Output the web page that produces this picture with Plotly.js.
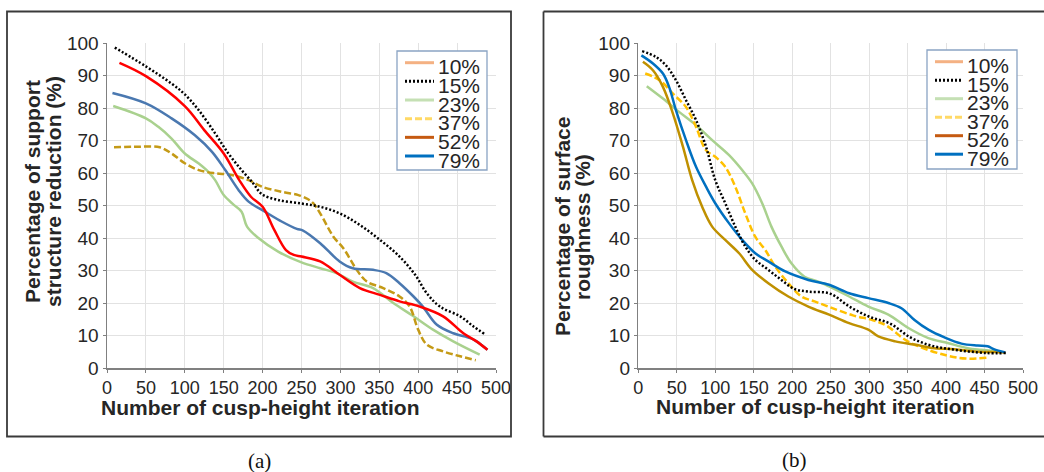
<!DOCTYPE html>
<html>
<head>
<meta charset="utf-8">
<script src="https://cdn.plot.ly/plotly-3.0.1.min.js"></script>
<style>
html,body{margin:0;padding:0;background:#fff;}
#chart{width:1044px;height:472px;}
</style>
</head>
<body>
<div id="chart"></div>
<script>
// ---------- DATA ----------
const legendNames = ["10%", "15%", "23%", "37%", "52%", "79%"];
const xTicks = [0, 50, 100, 150, 200, 250, 300, 350, 400, 450, 500];
const yTicks = [0, 10, 20, 30, 40, 50, 60, 70, 80, 90, 100];

// (a) Percentage of support structure reduction
const a15x = [10, 50, 83, 100, 118, 139, 156, 173, 188, 199, 220, 250, 274, 299, 325, 351, 376, 396, 411, 428, 454, 471, 485];
const a15y = [98.6, 92.8, 87.5, 84.2, 79.3, 72.2, 66, 60.9, 56.8, 53.5, 51.7, 50.6, 49.6, 47.6, 44, 39.4, 34.3, 28.7, 23, 18.9, 15.9, 12.8, 10.5];
const a52x = [16, 50, 100, 125, 150, 170, 185, 200, 215, 230, 240, 250, 274, 299, 325, 351, 376, 402, 432, 458, 475, 489];
const a52y = [93.9, 89.8, 80.6, 73.2, 66, 57.8, 52.7, 49.6, 42.5, 36.3, 34.8, 34.3, 32.8, 28.7, 24.6, 22.5, 20.5, 18.9, 15.9, 10.7, 8.2, 5.6];
const a79x = [7, 50, 83, 113, 135, 152, 169, 182, 203, 225, 244, 252, 274, 299, 316, 342, 359, 376, 394, 406, 424, 445, 467, 475, 489];
const a79y = [84.6, 81.4, 76.8, 71.6, 66.5, 60.9, 54.8, 51.2, 48.1, 45, 42.8, 42.3, 38.4, 32.8, 30.7, 30.2, 29.2, 26.1, 22, 18.9, 13.3, 10.7, 9.2, 8.2, 5.6];
const a23x = [8, 50, 66, 83, 100, 118, 130, 139, 150, 163, 173, 180, 195, 220, 250, 274, 295, 316, 342, 368, 394, 419, 445, 479];
const a23y = [80.6, 76.8, 74.2, 70.6, 66, 62.9, 60.4, 57.8, 53.2, 50.2, 48.1, 43.5, 39.9, 35.8, 32.5, 30.7, 29.2, 26.6, 24.6, 20, 15.9, 11.8, 8.2, 4.1];
const a37x = [9, 40, 68, 83, 100, 118, 139, 160, 182, 199, 225, 246, 258, 265, 274, 291, 304, 321, 334, 355, 376, 389, 400, 411, 432, 454, 474];
const a37y = [67.9, 68.1, 67.9, 66, 63, 60.9, 59.9, 59.4, 57.8, 55.8, 54.2, 53.2, 52, 50.7, 47.6, 40.4, 36.8, 30.2, 26.6, 24.6, 22, 18.9, 11.8, 7.2, 5.1, 3.6, 2.4];

// (b) Percentage of surface roughness
const b15x = [5, 23, 36, 49, 62, 75, 88, 100, 113, 126, 139, 152, 169, 186, 203, 221, 249, 275, 301, 327, 353, 379, 409, 452, 478];
const b15y = [97.5, 95.7, 93.1, 88.5, 82.4, 76.3, 68.1, 57.8, 50.7, 43.5, 37.4, 33.3, 30.2, 27.1, 24.3, 23.5, 22.9, 18.8, 15.7, 13.7, 9.5, 7, 5.7, 4.6, 4.6];
const b79x = [4, 19, 32, 40, 49, 62, 75, 88, 100, 118, 135, 152, 169, 191, 221, 248, 274, 299, 325, 342, 359, 377, 398, 420, 441, 454, 462, 477];
const b79y = [96.2, 93.7, 90.6, 86.5, 79.3, 70.1, 61.9, 55.8, 50.7, 44.5, 39.4, 35.3, 32.8, 29.7, 27.1, 25.6, 23, 21.5, 20, 18.4, 14.8, 11.8, 9.4, 7.5, 6.9, 6.7, 5.8, 4.8];
const b52x = [6, 19, 32, 45, 58, 70, 83, 96, 113, 131, 148, 169, 195, 221, 248, 274, 299, 312, 334, 359, 385, 411, 437, 462, 477];
const b52y = [94.2, 91.6, 86.5, 78.3, 68.1, 57.8, 49.6, 43.5, 39.4, 35.3, 30.2, 26.1, 22, 18.9, 16.4, 13.8, 11.8, 9.7, 8.2, 7.2, 6.1, 5.8, 5.1, 4.9, 4.8];
const b37x = [9, 28, 45, 62, 75, 88, 100, 113, 126, 139, 152, 165, 178, 195, 212, 229, 248, 279, 305, 322, 348, 366, 400, 426, 456];
const b37y = [90.6, 88.5, 84.4, 80.3, 74.2, 67, 65, 61.9, 55.8, 47.6, 40.4, 36.3, 31.2, 26.1, 22, 20.5, 18.8, 16.2, 14.7, 13.1, 8.5, 6.5, 3.9, 2.9, 3.2];
const b23x = [11, 32, 53, 75, 96, 118, 135, 148, 161, 173, 186, 199, 216, 234, 248, 274, 299, 325, 351, 377, 402, 428, 445, 471];
const b23y = [86.7, 82.9, 78.8, 74.7, 70.1, 65.5, 60.9, 56.8, 50.7, 43.5, 37.4, 32.2, 28.1, 26.6, 25.1, 22, 18.9, 16.4, 12.3, 9.2, 7.7, 6.1, 5.6, 5.1];

// ---------- STYLE ----------
const W = 1044, H = 472;
const px = v => v / W;
const py = v => 1 - v / H;
const txt = '#262626';
const sans = 'Liberation Sans, Arial, sans-serif';
const DOT = '2px,2px';
const DASH = '7px,3px';

function tr(x, y, color, dash, xa, ya, name) {
  return {x: x, y: y, type: 'scatter', mode: 'lines', name: name, xaxis: xa, yaxis: ya,
    line: {color: color, width: 2.5, dash: dash, shape: 'spline', smoothing: 1},
    hoverinfo: 'skip', showlegend: false};
}

const data = [
  tr(a23x, a23y, '#A9D18E', 'solid', 'x', 'y', '23%'),
  tr(a37x, a37y, '#C49A16', DASH, 'x', 'y', '37%'),
  tr(a79x, a79y, '#4A78B0', 'solid', 'x', 'y', '79%'),
  tr(a52x, a52y, '#FF0000', 'solid', 'x', 'y', '52%'),
  tr(a15x, a15y, '#000000', DOT, 'x', 'y', '15%'),
  tr(b23x, b23y, '#A9D18E', 'solid', 'x2', 'y2', '23%'),
  tr(b37x, b37y, '#FFC000', DASH, 'x2', 'y2', '37%'),
  tr(b52x, b52y, '#BF9000', 'solid', 'x2', 'y2', '52%'),
  tr(b79x, b79y, '#0070C0', 'solid', 'x2', 'y2', '79%'),
  tr(b15x, b15y, '#000000', DOT, 'x2', 'y2', '15%')
];

function xax(dom, anchor) {
  return {domain: dom, anchor: anchor, range: [0, 500], tickvals: xTicks, ticktext: xTicks.map(String),
    showgrid: true, gridcolor: '#e2e2e2', gridwidth: 1, zeroline: false,
    showline: true, linecolor: '#808080', linewidth: 1.5, ticks: 'outside', ticklen: 3, tickcolor: '#808080',
    tickfont: {family: sans, size: 18, color: txt}, fixedrange: true};
}
function yax(anchor) {
  return {domain: [py(368), py(43)], anchor: anchor, range: [0, 100], tickvals: yTicks, ticktext: yTicks.map(String),
    showgrid: true, gridcolor: '#e2e2e2', gridwidth: 1, zeroline: false,
    showline: true, linecolor: '#808080', linewidth: 1.5, ticks: 'outside', ticklen: 3, tickcolor: '#808080',
    tickfont: {family: sans, size: 19, color: txt}, fixedrange: true};
}

const shapes = [
  // panel frames
  {type: 'rect', xref: 'paper', yref: 'paper', x0: px(7), x1: px(511), y0: py(436.5), y1: py(11.5), line: {color: '#3a3a3a', width: 1.8}},
  {type: 'line', xref: 'paper', yref: 'paper', x0: px(543.5), x1: px(1050), y0: py(11.5), y1: py(11.5), line: {color: '#3a3a3a', width: 1.8}},
  {type: 'line', xref: 'paper', yref: 'paper', x0: px(543.5), x1: px(1050), y0: py(436.5), y1: py(436.5), line: {color: '#3a3a3a', width: 1.8}},
  {type: 'line', xref: 'paper', yref: 'paper', x0: px(543.5), x1: px(543.5), y0: py(436.5), y1: py(11.5), line: {color: '#3a3a3a', width: 1.8}}
];

const annotations = [];
function ann(text, x, y, size, opts) {
  annotations.push(Object.assign({text: text, xref: 'paper', yref: 'paper', x: px(x), y: py(y),
    xanchor: 'center', yanchor: 'middle', showarrow: false,
    font: {family: sans, size: size, color: txt}}, opts || {}));
}
// axis titles
ann('<b>Number of cusp-height iteration</b>', 260, 407, 21);
ann('<b>Number of cusp-height iteration</b>', 815, 406, 21);
ann('<b>Percentage of support</b>', 32, 192, 21, {textangle: -90});
ann('<b>structure reduction (%)</b>', 53, 192, 21, {textangle: -90});
ann('<b>Percentage of surface</b>', 563, 227, 21, {textangle: -90});
ann('<b>roughness (%)</b>', 583, 227, 21, {textangle: -90});
// captions
ann('(a)', 259, 461, 21, {font: {family: 'Liberation Serif, Times New Roman, serif', size: 21, color: '#111'}});
ann('(b)', 794, 460, 21, {font: {family: 'Liberation Serif, Times New Roman, serif', size: 21, color: '#111'}});

// manual legends (one per panel)
const legendColors = ['#F4B183', '#000000', '#C5E0B4', '#FFD966', '#C55A11', '#0070C0'];
const legendDash = ['solid', DOT, 'solid', DASH, 'solid', 'solid'];
function legend(bx0, bx1, by0, by1, lx0, lx1, ly0, step, tx) {
  shapes.push({type: 'rect', xref: 'paper', yref: 'paper', x0: px(bx0), x1: px(bx1), y0: py(by1), y1: py(by0),
    line: {color: '#8aa4c4', width: 1.3}, fillcolor: '#ffffff'});
  legendNames.forEach((n, i) => {
    const ly = ly0 + i * step;
    shapes.push({type: 'line', xref: 'paper', yref: 'paper', x0: px(lx0), x1: px(lx1), y0: py(ly), y1: py(ly),
      line: {color: legendColors[i], width: 3, dash: legendDash[i]}});
    ann(n, tx, ly + 4, 21, {xanchor: 'left'});
  });
}
legend(397, 487, 51, 170, 405, 434, 62.7, 18.66, 435.5);
legend(927, 1017, 50, 169, 935, 963, 61.7, 18.5, 965);

const layout = {
  width: W, height: H, margin: {l: 0, r: 0, t: 0, b: 0},
  paper_bgcolor: '#ffffff', plot_bgcolor: '#ffffff', showlegend: false,
  xaxis: xax([px(107), px(496)], 'y'),
  yaxis: yax('x'),
  xaxis2: xax([px(638.3), px(1023)], 'y2'),
  yaxis2: yax('x2'),
  shapes: shapes, annotations: annotations
};

Plotly.newPlot('chart', data, layout, {displayModeBar: false, staticPlot: true});
</script>
</body>
</html>
